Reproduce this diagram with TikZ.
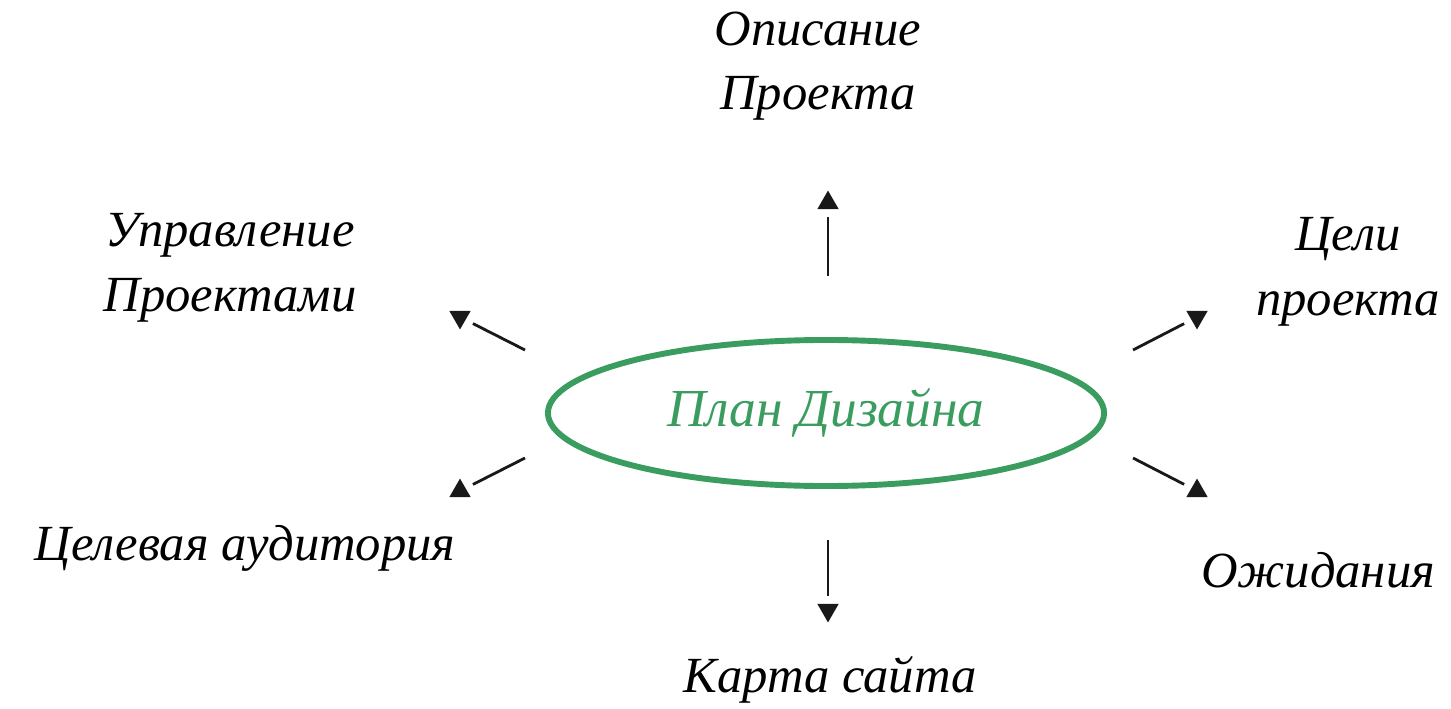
\documentclass[tikz,border=0pt]{standalone}
\usepackage{fontspec}
\setmainfont{Liberation Serif}
\usepackage{tikz}
\usetikzlibrary{arrows.meta}
\usetikzlibrary{shapes.geometric}
\usetikzlibrary{calc}
\definecolor{plangreen}{RGB}{58,156,94}

\begin{document}
\begin{tikzpicture}[x=0.025cm, y=-0.025cm,
	lbl/.style={align=center, font=\itshape\fontsize{36}{46}\selectfont},
	tri/.style={regular polygon, regular polygon sides=3, fill=black!90, inner sep=0pt, minimum size=0.62cm},
	spoke/.style={line width=2pt, black!90, shorten >=0.2cm}]
\useasboundingbox (0,0) rectangle (1451,709);
\node[ellipse, draw=plangreen, line width=4.2pt, minimum width=13.9cm, minimum height=3.65cm,
	text=plangreen, font=\itshape\fontsize{38}{46}\selectfont] (plan) at (826,413) {План Дизайна};
% labels
\node[lbl] (opis) at (818,66) {Описание\\Проекта};
\node[lbl] (upr) at (230,268) {Управление\\Проектами};
\node[lbl] (celi) at (1348,272) {Цели\\проекта};
\node[lbl] (aud) at (245,548) {Целевая аудитория};
\node[lbl] (ozh) at (1318,570) {Ожидания};
\node[lbl] (karta) at (830,680) {Карта сайта};
% triangles
\node[tri] (t-up) at (828,203) {};
\node[tri, rotate=180] (t-ul) at (460,317) {};
\node[tri] (t-ll) at (460,491) {};
\node[tri, rotate=180] (t-dn) at (828,610) {};
\node[tri, rotate=180] (t-ur) at (1197,317) {};
\node[tri] (t-lr) at (1197,491) {};
% spokes
\coordinate (s-up) at (828,276);
\coordinate (s-ul) at (525,350);
\coordinate (s-ll) at (525,458);
\coordinate (s-dn) at (828,540);
\coordinate (s-ur) at (1133,350);
\coordinate (s-lr) at (1133,458);
\foreach \d in {up,ul,ll,dn,ur,lr}
	\draw[spoke] (s-\d) -- (t-\d);
\end{tikzpicture}
\end{document}
